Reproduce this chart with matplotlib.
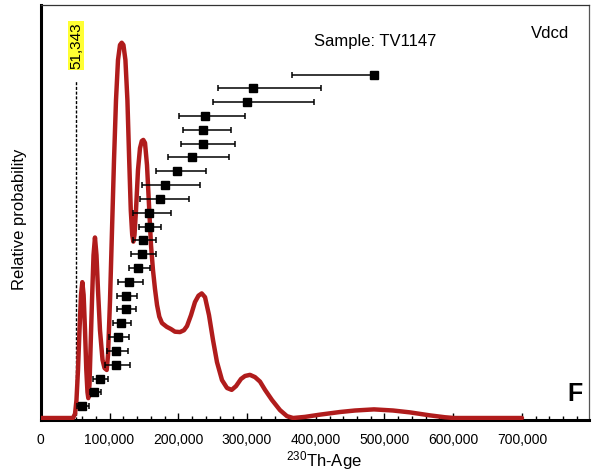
import matplotlib
matplotlib.use('Agg')
import matplotlib.pyplot as plt
import numpy as np
from matplotlib.ticker import MultipleLocator, FuncFormatter
import matplotlib.transforms as mtransforms

plt.rcParams['font.family'] = ['Liberation Sans', 'DejaVu Sans']
plt.rcParams['mathtext.fontset'] = 'custom'
plt.rcParams['mathtext.rm'] = 'Liberation Sans'
plt.rcParams['mathtext.it'] = 'Liberation Sans'

# ---- data: individual ages (years) with lower/upper bounds, bottom -> top ----
ages = [59500, 78100, 86400, 109400, 109800, 112300, 117100, 123500, 123900,
        128300, 141800, 147700, 148700, 157700, 157800, 174100, 181000, 197800,
        220000, 235500, 236300, 238900, 300400, 309100, 484700]
age_lo = [53100, 71600, 76400, 93400, 96700, 99700, 105500, 110400, 110900,
          111900, 127900, 131900, 133700, 143100, 134100, 144600, 147200, 167600,
          184600, 203500, 206900, 201000, 250100, 258200, 365000]
age_hi = [69400, 87100, 98200, 129800, 126900, 127900, 131700, 138500, 140400,
          148700, 158900, 167200, 167300, 174400, 189000, 215300, 231600, 240300,
          273800, 282500, 276700, 297100, 397900, 407200, 484700]

# ---- probability density curve (age in ka, relative height) ----
curve_age_ka = [0, 46.8, 49.8, 51.9, 54.1, 56.3, 58.5, 60.4, 62.3, 64.3, 66.2, 67.9,
                69.1, 70.8, 72.3, 74.5, 76.7, 78.8, 81.0, 83.2, 86.1, 89.8, 92.7, 95.9,
                97.8, 100.7, 103.6, 106.5, 109.4, 112.3, 115.2, 117.7, 120.2, 123.1,
                126.0, 128.6, 130.9, 133.0, 134.6, 136.3, 138.5, 141.4, 144.3, 146.9,
                149.1, 151.6, 154.5, 157.4, 160.3, 163.2, 166.1, 169.1, 172.4, 176.3,
                183.2, 189.4, 195.2, 202.5, 208.3, 212.7, 218.5, 224.3, 229.4, 234.1,
                238.9, 244.7, 250.5, 256.3, 263.6, 270.9, 277.7, 284.0, 291.2, 297.1,
                304.3, 311.6, 318.9, 326.2, 336.3, 348.0, 358.1, 367.0, 384.4, 406.2,
                435.3, 457.1, 484.7, 512.4, 537.1, 566.2, 588.0, 601.1, 700.0]
curve_prob = [0, 0, 0.011, 0.048, 0.128, 0.235, 0.328, 0.362, 0.328, 0.235, 0.128, 0.069,
              0.053, 0.088, 0.181, 0.314, 0.434, 0.481, 0.434, 0.341, 0.234, 0.155, 0.133, 0.128,
              0.168, 0.314, 0.501, 0.687, 0.847, 0.954, 0.994, 1.0, 0.994, 0.954,
              0.847, 0.687, 0.554, 0.488, 0.470, 0.488, 0.554, 0.661, 0.719, 0.738,
              0.741, 0.733, 0.674, 0.568, 0.461, 0.394, 0.344, 0.301, 0.270, 0.253,
              0.243, 0.237, 0.230, 0.229, 0.234, 0.245, 0.274, 0.309, 0.326, 0.332,
              0.322, 0.274, 0.208, 0.149, 0.101, 0.080, 0.075, 0.085, 0.104, 0.112,
              0.115, 0.109, 0.097, 0.075, 0.048, 0.021, 0.005, 0, 0.003, 0.009,
              0.016, 0.020, 0.023, 0.020, 0.015, 0.007, 0.002, 0, 0]

min_age = 51343
min_label = "51,343"
sample_text = "Sample: TV1147"
corner_text = "Vdcd"
panel_letter = "F"
x_ticks = [0, 100000, 200000, 300000, 400000, 500000, 600000, 700000]

W, H = 593, 474
fig = plt.figure(figsize=(W / 100, H / 100), dpi=100)
ax = fig.add_axes([40.8 / W, 1 - 420 / H, (589 - 40.8) / W, (420 - 5) / H])

curve_age = np.array(curve_age_ka) * 1000
ax.plot(curve_age, curve_prob, color='#b01c1c', lw=3.2, solid_joinstyle='round',
        solid_capstyle='round', zorder=3)
ax.set_xlim(0, 797500)
ax.set_ylim(-0.0053, 1.1005)

# minimum-age marker
ax.plot([min_age, min_age], [-0.0053, 0.9], color='black', lw=1.0,
        linestyle=(0, (2.2, 1.2)), zorder=2)
trans = mtransforms.blended_transform_factory(ax.transData, ax.transAxes)
ax.text(min_age, 0.902, min_label, rotation=90, ha='center', va='center',
        fontsize=11, transform=trans, zorder=5,
        bbox=dict(boxstyle='square,pad=0.08', facecolor='#ffff33', edgecolor='none'))

# ages with errors on a twin axis (drawn on top)
ax2 = ax.twinx()
ranks = np.arange(1, len(ages) + 1)
ages_a = np.array(ages)
xerr = [ages_a - np.array(age_lo), np.array(age_hi) - ages_a]
ax2.errorbar(ages_a, ranks, xerr=xerr, fmt='s', color='black', markersize=5.5,
             elinewidth=1.1, capsize=2.3, capthick=1.1, zorder=4)
ax2.set_ylim(0, 30.03)
ax2.set_yticks([])
for s in ax2.spines.values():
    s.set_visible(False)

# axes styling
ax.set_yticks([])
ax.xaxis.set_major_locator(matplotlib.ticker.FixedLocator(x_ticks))
ax.xaxis.set_minor_locator(MultipleLocator(20000))
ax.xaxis.set_major_formatter(FuncFormatter(lambda v, p: f'{int(round(v)):,}'))
ax.tick_params(axis='x', which='major', direction='in', length=5, width=1,
               pad=9.5, labelsize=10)
ax.tick_params(axis='x', which='minor', direction='in', length=3, width=1)
ax.spines['left'].set_linewidth(2.2)
ax.spines['bottom'].set_linewidth(2.2)
ax.spines['top'].set_linewidth(0.9)
ax.spines['right'].set_linewidth(0.9)
ax.spines['top'].set_color('#333333')
ax.spines['right'].set_color('#555555')

# texts
fig.text(375 / W, 1 - 46 / H, sample_text, ha='center', va='baseline', fontsize=12)
fig.text(550.5 / W, 1 - 38 / H, corner_text, ha='center', va='baseline', fontsize=12)
fig.text(575 / W, 1 - 401 / H, panel_letter, ha='center', va='baseline',
         fontsize=18, fontweight='bold')
fig.text(20 / W, 1 - 219 / H, 'Relative probability', rotation=90,
         ha='center', va='center', fontsize=12)
fig.text(324 / W, 1 - 466 / H, r'$^{\mathregular{230}}$Th-Age', ha='center',
         va='baseline', fontsize=12)

fig.savefig('out.png', dpi=100)
